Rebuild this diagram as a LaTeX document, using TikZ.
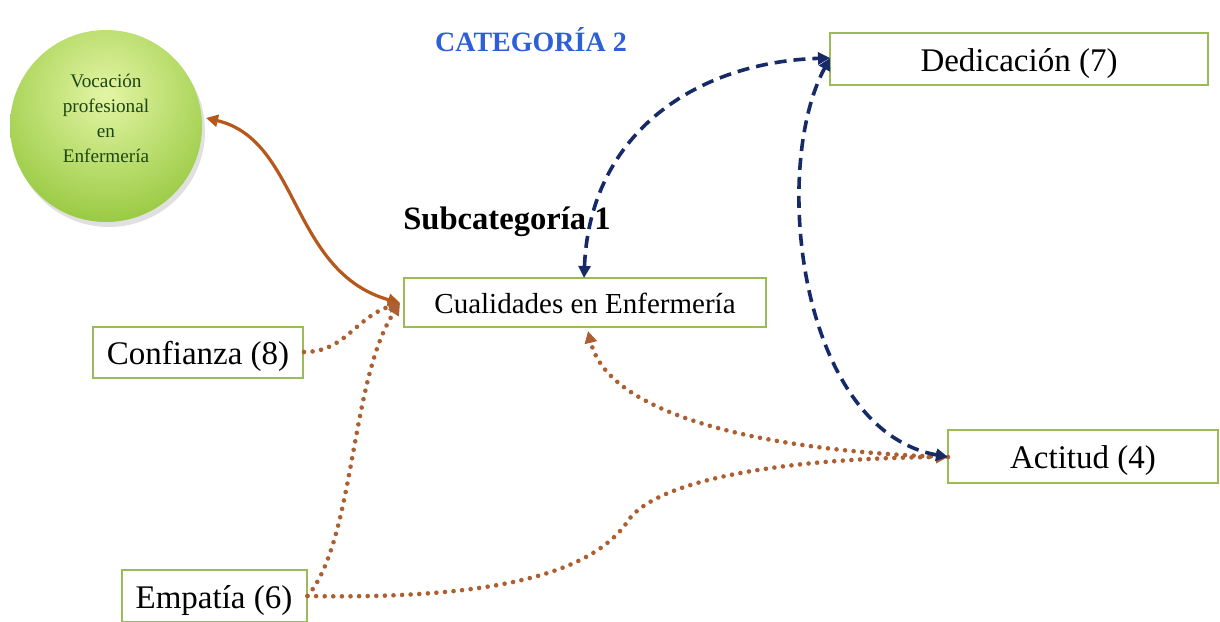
\documentclass[tikz,border=0pt]{standalone}
\usepackage{fontspec}
\setmainfont{Liberation Serif}
\usetikzlibrary{arrows.meta}
\definecolor{boxgreen}{RGB}{155,187,89}
\definecolor{brownA}{RGB}{182,88,28}
\definecolor{brownD}{RGB}{172,96,50}
\definecolor{navyA}{RGB}{22,42,104}
\definecolor{catblue}{RGB}{45,95,215}
\definecolor{ballin}{RGB}{228,245,165}
\definecolor{ballout}{RGB}{140,195,50}
\definecolor{balltext}{RGB}{30,70,20}
\begin{document}
\begin{tikzpicture}[x=0.5pt,y=-0.5pt,
  box/.style={draw=boxgreen, line width=1pt, fill=white, inner sep=0pt, font=\fontsize{16.5}{19}\selectfont, text height=13.5pt, text depth=1.3pt},
  solidbrown/.style={draw=brownA, line width=1.6pt, {Triangle[length=6pt,width=6pt]}-{Triangle[length=6pt,width=6pt]}},
  dotbrown/.style={draw=brownD, line width=2.3pt, line cap=round, dash pattern=on 0pt off 4.3pt, -{Triangle[length=6pt,width=6pt]}},
  navydash/.style={draw=navyA, line width=1.8pt, dash pattern=on 6pt off 3.5pt, {Triangle[length=6pt,width=6pt]}-{Triangle[length=6pt,width=6pt]}}
]
\useasboundingbox (0,0) rectangle (1220,621);
% circle
\fill[black!12] (109,131) circle (96);
\begin{scope}
\clip (106,126) circle (96);
\shade[inner color=ballin, outer color=ballout] (106,95) circle (150);
\end{scope}
\node[circle, minimum size=96pt, inner sep=0pt] (voc) at (106,126) {};
\node[align=center, text=balltext, font=\fontsize{9.6}{12.5}\selectfont] (voctxt) at (106,118) {Vocación\\profesional\\en\\Enfermería};
% titles
\node[text=catblue, font=\fontsize{14}{16}\selectfont\bfseries] (cat) at (531,40) {CATEGORÍA 2};
\node[text=black, font=\fontsize{16.3}{18}\selectfont\bfseries] (sub) at (507,222) {Subcategoría 1};
% boxes
\node[box, minimum width=189pt, minimum height=26pt] (ded) at (1019,59) {Dedicación (7)};
\node[box, minimum width=181pt, minimum height=24.5pt, font=\fontsize{14.5}{17}\selectfont, text height=12pt, text depth=0.8pt] (cual) at (585,302) {Cualidades en Enfermería};
\node[box, minimum width=105pt, minimum height=25.5pt] (conf) at (198,352) {Confianza (8)};
\node[box, minimum width=135pt, minimum height=26.5pt] (act) at (1083,456) {Actitud (4)};
\node[box, minimum width=92.5pt, minimum height=26pt] (emp) at (214,596) {Empatía (6)};
% coordinates
\coordinate (cualL) at (400,303);
\coordinate (cualT) at (584,278);
\coordinate (cualB) at (588,331);
\coordinate (dedL) at (830,58);
\coordinate (actL) at (948,457);
\coordinate (vocR) at (206,118);
\coordinate (kink) at (630,518);
% connectors
\draw[solidbrown] (vocR) .. controls (300,140) and (290,272) .. (cualL);
\draw[dotbrown] (conf.east) .. controls (345,352) and (355,318) .. (cualL);
\draw[dotbrown] (emp.east) .. controls (355,540) and (350,380) .. (cualL);
\draw[dotbrown] (emp.east) .. controls (520,600) and (600,565) .. (kink) .. controls (665,476) and (800,458) .. (actL);
\draw[dotbrown] (actL) .. controls (780,452) and (610,420) .. (cualB);
\draw[navydash] (cualT) .. controls (590,130) and (700,62) .. (dedL);
\draw[navydash] (actL) .. controls (800,430) and (770,170) .. (dedL);
\end{tikzpicture}
\end{document}
